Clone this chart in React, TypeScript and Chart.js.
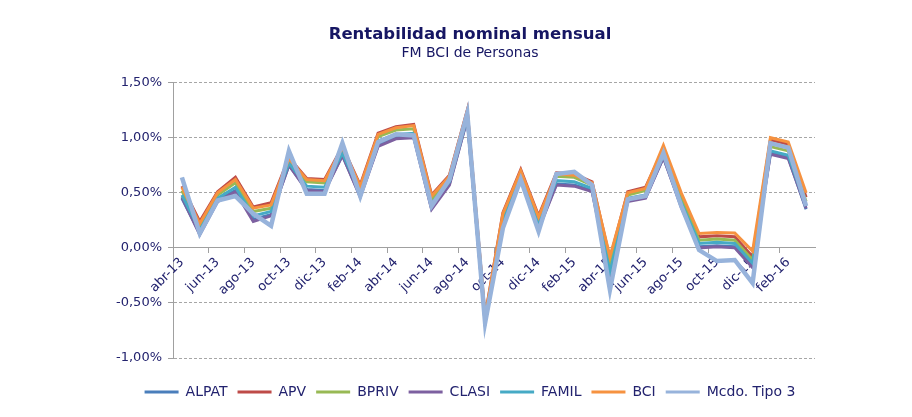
import React, { useEffect, useRef } from 'react';
import { Chart, registerables } from 'chart.js';

Chart.register(...registerables);

const months = [
  'abr-13', 'may-13', 'jun-13', 'jul-13', 'ago-13', 'sep-13', 'oct-13', 'nov-13', 'dic-13',
  'ene-14', 'feb-14', 'mar-14', 'abr-14', 'may-14', 'jun-14', 'jul-14', 'ago-14', 'sep-14',
  'oct-14', 'nov-14', 'dic-14', 'ene-15', 'feb-15', 'mar-15', 'abr-15', 'may-15', 'jun-15',
  'jul-15', 'ago-15', 'sep-15', 'oct-15', 'nov-15', 'dic-15', 'ene-16', 'feb-16', 'mar-16',
];

const alpat = [0.45, 0.13, 0.43, 0.52, 0.26, 0.30, 0.75, 0.53, 0.52, 0.84, 0.47, 0.93, 1.00, 1.01, 0.36, 0.58, 1.17, -0.68, 0.21, 0.63, 0.18, 0.58, 0.57, 0.52, -0.25, 0.43, 0.46, 0.82, 0.38, 0.01, 0.02, 0.01, -0.17, 0.86, 0.82, 0.35];
const apv = [0.56, 0.24, 0.51, 0.64, 0.37, 0.41, 0.82, 0.63, 0.62, 0.92, 0.57, 1.04, 1.10, 1.12, 0.48, 0.66, 1.25, -0.62, 0.32, 0.71, 0.29, 0.68, 0.67, 0.60, -0.10, 0.51, 0.55, 0.90, 0.47, 0.10, 0.11, 0.10, -0.08, 0.98, 0.94, 0.46];
const bpriv = [0.52, 0.19, 0.48, 0.59, 0.33, 0.36, 0.79, 0.60, 0.59, 0.89, 0.53, 1.01, 1.07, 1.08, 0.44, 0.63, 1.22, -0.65, 0.28, 0.68, 0.25, 0.65, 0.64, 0.57, -0.16, 0.48, 0.52, 0.88, 0.45, 0.07, 0.08, 0.07, -0.11, 0.92, 0.88, 0.42];
const clasi = [0.46, 0.12, 0.42, 0.51, 0.24, 0.29, 0.75, 0.52, 0.51, 0.84, 0.46, 0.92, 0.99, 1.00, 0.35, 0.57, 1.17, -0.68, 0.20, 0.62, 0.17, 0.57, 0.56, 0.51, -0.27, 0.42, 0.45, 0.82, 0.37, 0.00, 0.01, 0.00, -0.18, 0.85, 0.81, 0.36];
const famil = [0.48, 0.16, 0.45, 0.55, 0.29, 0.33, 0.77, 0.56, 0.55, 0.86, 0.50, 0.97, 1.03, 1.04, 0.40, 0.60, 1.19, -0.67, 0.24, 0.65, 0.21, 0.61, 0.60, 0.54, -0.22, 0.45, 0.48, 0.84, 0.41, 0.04, 0.05, 0.04, -0.14, 0.88, 0.84, 0.38];
const bci = [0.55, 0.22, 0.50, 0.62, 0.36, 0.39, 0.81, 0.62, 0.61, 0.91, 0.56, 1.03, 1.09, 1.11, 0.47, 0.65, 1.24, -0.63, 0.31, 0.70, 0.28, 0.67, 0.66, 0.59, -0.08, 0.50, 0.54, 0.93, 0.50, 0.13, 0.14, 0.135, -0.03, 1.00, 0.96, 0.50];
const mcdo = [0.64, 0.13, 0.43, 0.47, 0.31, 0.20, 0.88, 0.49, 0.49, 0.95, 0.47, 0.96, 1.03, 1.02, 0.38, 0.62, 1.22, -0.68, 0.18, 0.62, 0.15, 0.67, 0.69, 0.57, -0.38, 0.44, 0.47, 0.86, 0.38, -0.02, -0.12, -0.11, -0.32, 0.95, 0.91, 0.38];

const seriesNames = ['ALPAT', 'APV', 'BPRIV', 'CLASI', 'FAMIL', 'BCI', 'Mcdo. Tipo 3'];
const seriesValues = [alpat, apv, bpriv, clasi, famil, bci, mcdo];
const seriesColors = ['#4A7EBB', '#BE4B48', '#98B954', '#7D60A0', '#46AAC5', '#F69240', '#97B3DB'];
const seriesWidths = [3, 3, 3, 3, 3, 3, 4.5];

const yTicks = [-1, -0.5, 0, 0.5, 1, 1.5];

const FONT = "'DejaVu Sans', Verdana, sans-serif";
const NAVY = '#22226e';

export default function App() {
  const canvasRef = useRef<HTMLCanvasElement | null>(null);

  useEffect(() => {
    const canvas = canvasRef.current;
    if (!canvas) return;
    const datasets = seriesNames.map((name, i) => ({
      label: name,
      data: seriesValues[i],
      borderColor: seriesColors[i],
      backgroundColor: seriesColors[i],
      borderWidth: seriesWidths[i],
      pointRadius: 0,
      tension: 0,
      fill: false,
      order: seriesNames.length - 1 - i,
      xAxisID: 'x',
      yAxisID: 'y',
    }));

    const chart = new Chart(canvas, {
      type: 'line',
      data: { labels: months, datasets },
      options: {
        animation: false,
        responsive: false,
        maintainAspectRatio: false,
        devicePixelRatio: 1,
        layout: { padding: { left: 28, right: 0, top: 0, bottom: 8 } },
        plugins: {
          title: {
            display: true,
            text: 'Rentabilidad nominal mensual',
            color: '#161663',
            font: { family: FONT, size: 16.5, weight: 'bold' },
            padding: { top: 25, bottom: 0 },
          },
          subtitle: {
            display: true,
            text: 'FM BCI de Personas',
            color: '#161663',
            font: { family: FONT, size: 14 },
            padding: { top: 0, bottom: 21 },
          },
          legend: {
            display: true,
            position: 'bottom',
            labels: {
              usePointStyle: true,
              pointStyle: 'line',
              pointStyleWidth: 34,
              padding: 10,
              color: NAVY,
              font: { family: FONT, size: 14 },
              sort: (a: any, b: any) => a.datasetIndex - b.datasetIndex,
              generateLabels: (c: any) =>
                (Chart.defaults.plugins.legend.labels.generateLabels as any)(c).map((l: any) => ({
                  ...l,
                  lineWidth: 3,
                })),
            },
          },
          tooltip: { enabled: false },
        },
        scales: {
          y: {
            type: 'linear',
            position: 'left',
            min: yTicks[0],
            max: yTicks[yTicks.length - 1],
            afterBuildTicks: (s: any) => {
              s.ticks = yTicks.map((v) => ({ value: v }));
            },
            afterFit: (s: any) => {
              s.width = 145;
            },
            ticks: {
              color: NAVY,
              font: { family: FONT, size: 13 },
              padding: 6,
              callback: (v: any) => Number(v).toFixed(2).replace('.', ',') + '%',
            },
            grid: {
              color: '#a6a6a6',
              lineWidth: 1,
              drawTicks: true,
              tickLength: 5,
              tickColor: '#a0a0a0',
            },
            border: { display: true, color: '#a0a0a0', width: 1, dash: [3, 2] },
          },
          x: {
            type: 'category',
            position: { y: 0 },
            offset: true,
            grid: {
              offset: true,
              drawOnChartArea: false,
              drawTicks: true,
              tickLength: 5,
              color: (ctx: any) => (ctx.index % 2 === 0 ? '#a0a0a0' : 'rgba(0,0,0,0)'),
            },
            border: { display: true, color: '#a0a0a0', width: 1 },
            ticks: {
              autoSkip: false,
              maxRotation: 45,
              minRotation: 45,
              padding: 2,
              color: NAVY,
              font: { family: FONT, size: 13 },
              callback: function (this: any, v: any, i: number) {
                return i % 2 === 0 ? this.getLabelForValue(v) : '';
              },
            },
          },
          yR: {
            type: 'linear',
            position: 'right',
            display: true,
            ticks: { display: false },
            grid: { display: false },
            border: { display: false },
            afterFit: (s: any) => {
              s.width = 97;
            },
          },
          xB: {
            type: 'linear',
            position: 'bottom',
            display: true,
            ticks: { display: false },
            grid: { display: false },
            border: { display: false },
            afterFit: (s: any) => {
              s.height = 17;
            },
          },
        },
      } as any,
    });
    return () => chart.destroy();
  }, []);

  return (
    <div style={{ position: 'fixed', left: 0, top: 0, width: 912, height: 417, background: '#fff' }}>
      <canvas ref={canvasRef} width={912} height={417} style={{ display: 'block' }} />
    </div>
  );
}
